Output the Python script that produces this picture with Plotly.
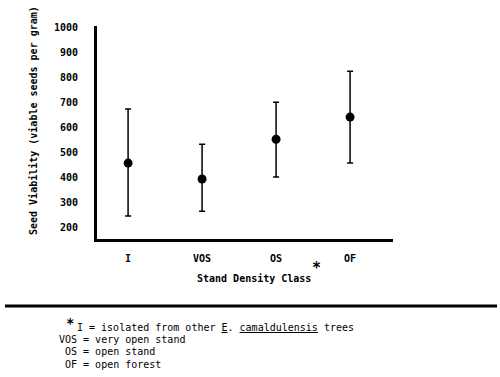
import plotly.graph_objects as go

categories = ["I", "VOS", "OS", "OF"]
mean_vals = [457, 393, 553, 642]
upper_vals = [674, 533, 702, 826]
lower_vals = [244, 264, 401, 457]
y_ticks = [200, 300, 400, 500, 600, 700, 800, 900, 1000]
footnote_lines = [
    "I = isolated from other <u>E</u>. <u>camaldulensis</u> trees",
    "VOS = very open stand",
    " OS = open stand",
    " OF = open forest",
]

W, H = 500, 377
L, R, T, B = 97, 107, 26, 138
PW, PH = W - L - R, H - T - B


def px(p):
    return (p - L) / PW


def py(p):
    return (H - B - p) / PH


MONO = "DejaVu Sans Mono"

fig = go.Figure()
fig.add_trace(go.Scatter(
    x=list(range(len(categories))),
    y=mean_vals,
    mode="markers",
    marker=dict(color="black", size=9),
    error_y=dict(
        type="data", symmetric=False,
        array=[u - m for u, m in zip(upper_vals, mean_vals)],
        arrayminus=[m - l for m, l in zip(mean_vals, lower_vals)],
        color="black", thickness=1.5, width=3,
    ),
    showlegend=False,
))

fig.update_layout(
    width=W, height=H,
    margin=dict(l=L, r=R, t=T, b=B),
    paper_bgcolor="white", plot_bgcolor="white",
    font=dict(family=MONO, color="black", size=10),
    xaxis=dict(
        range=[-0.42, 3.58],
        tickmode="array", tickvals=list(range(len(categories))), ticktext=categories,
        showgrid=False, zeroline=False,
        showline=True, linecolor="black", linewidth=3,
        ticks="", ticklabelstandoff=8,
        tickfont=dict(family=MONO, size=10, weight="bold"),
    ),
    yaxis=dict(
        range=[152, 1008],
        tickmode="array", tickvals=y_ticks, ticktext=[str(v) for v in y_ticks],
        showgrid=False, zeroline=False,
        showline=True, linecolor="black", linewidth=3,
        ticks="", ticklabelstandoff=14,
        tickfont=dict(family=MONO, size=10, weight="bold"),
    ),
)

annotations = [
    dict(text="Seed Viability (viable seeds per gram)", textangle=-90,
         x=px(33), y=py(121), xref="paper", yref="paper",
         xanchor="center", yanchor="middle", showarrow=False,
         font=dict(family=MONO, size=10, weight="bold")),
    dict(text="Stand Density Class",
         x=px(254), y=py(278), xref="paper", yref="paper",
         xanchor="center", yanchor="middle", showarrow=False,
         font=dict(family=MONO, size=10, weight="bold")),
    dict(text="*", x=px(316), y=py(268), xref="paper", yref="paper",
         xanchor="center", yanchor="middle", showarrow=False,
         font=dict(family=MONO, size=15, weight="bold")),
    dict(text="*", x=px(70), y=py(323), xref="paper", yref="paper",
         xanchor="center", yanchor="middle", showarrow=False,
         font=dict(family=MONO, size=14, weight="bold")),
]
line_y = [327, 339, 351, 364]
line_x = [75, 57, 57, 57]
for txt, yy, xx in zip(footnote_lines, line_y, line_x):
    annotations.append(dict(
        text=txt.replace(" ", "&nbsp;") if txt.startswith(" ") else txt,
        x=px(xx), y=py(yy), xref="paper", yref="paper",
        xanchor="left", yanchor="middle", showarrow=False,
        font=dict(family=MONO, size=10)))
fig.update_layout(annotations=annotations)

fig.add_shape(type="line", xref="paper", yref="paper",
              x0=px(5), x1=px(497), y0=py(306), y1=py(306),
              line=dict(color="black", width=3))

fig.write_html("out.html", config={"displayModeBar": False})

with open("out.html", "r", encoding="utf-8") as f:
    html = f.read()
html = html.replace("<body>", '<body style="margin:0;padding:0;overflow:hidden">', 1)
with open("out.html", "w", encoding="utf-8") as f:
    f.write(html)
